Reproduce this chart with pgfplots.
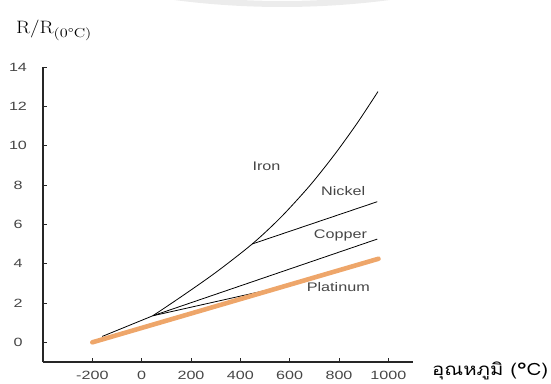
\documentclass[border=0pt]{standalone}
\usepackage{fontspec}
\usepackage{graphicx}
\usepackage{pgfplots}
\pgfplotsset{compat=1.18}
\newfontfamily\ticfont[FakeStretch=1.35]{Liberation Sans}
\newfontfamily\lblfont[FakeStretch=1.3]{Liberation Sans}
\newfontfamily\thaifont[Script=Thai]{Loma}
\definecolor{plat}{RGB}{238,166,106}
\definecolor{txtgray}{RGB}{70,70,70}
\begin{document}
\begin{tikzpicture}[x=1bp,y=1bp]
\path[use as bounding box] (-43,-21) rectangle (508,362);
\draw[gray!15, line width=6bp] (124,366) parabola bend (239,358) (354,366);
\begin{axis}[at={(0,0)}, anchor=south west, scale only axis,
  width=370bp, height=295bp,
  xmin=-400, xmax=1100, ymin=-1, ymax=14,
  axis lines=left, axis line style={-, line width=1.2bp, black!85},
  xtick={-200,0,200,400,600,800,1000},
  xticklabels={-200,0,200,400,600,800,1000},
  ytick={0,2,4,6,8,10,12,14},
  yticklabels={0,2,4,6,8,10,12,14},
  tick align=inside, major tick length=4bp,
  tick style={black!85, line width=0.9bp},
  xticklabel style={anchor=center, yshift=-13.5bp, font=\ticfont\fontsize{12}{14}\selectfont, text=txtgray},
  yticklabel style={anchor=center, xshift=-25bp, font=\ticfont\fontsize{12}{14}\selectfont, text=txtgray},
  clip=false]
\addplot[black, line width=0.8bp] coordinates {(-160,0.3) (45,1.35)};
\addplot[black, line width=0.8bp, smooth] coordinates {(45,1.35) (158,2.3) (300,3.55) (448,5.0) (562,6.33) (670,7.8) (740,8.87) (804,9.92) (880,11.26) (958,12.75)};
\addplot[black, line width=0.8bp] coordinates {(448,5.0) (955,7.15)};
\addplot[black, line width=0.8bp] coordinates {(45,1.35) (955,5.25)};
\addplot[black, line width=0.8bp] coordinates {(45,1.35) (560,2.8)};
\addplot[plat, line width=4.6bp, line cap=round] coordinates {(-200,0) (960,4.25)};
\node[font=\lblfont\fontsize{12.5}{14}\selectfont, text=txtgray] at (axis cs:506,8.93) {Iron};
\node[font=\lblfont\fontsize{12.5}{14}\selectfont, text=txtgray] at (axis cs:817,7.7) {Nickel};
\node[font=\lblfont\fontsize{12.5}{14}\selectfont, text=txtgray] at (axis cs:806,5.43) {Copper};
\node[font=\lblfont\fontsize{12.5}{14}\selectfont, text=txtgray] at (axis cs:797,2.8) {Platinum};
\end{axis}
\node[anchor=base west, inner sep=0pt] at (-27,329) {\scalebox{1.15}[1]{\fontsize{18}{20}\selectfont R/R}\raisebox{-4.5bp}{\scalebox{1.25}[1]{\fontsize{13}{14}\selectfont(0°C)}}};
\node[anchor=base west, inner sep=0pt] at (389,-13) {\scalebox{1.2}[1]{\thaifont\fontsize{17}{19}\selectfont อุณหภูมิ (°C)}};
\end{tikzpicture}
\end{document}
